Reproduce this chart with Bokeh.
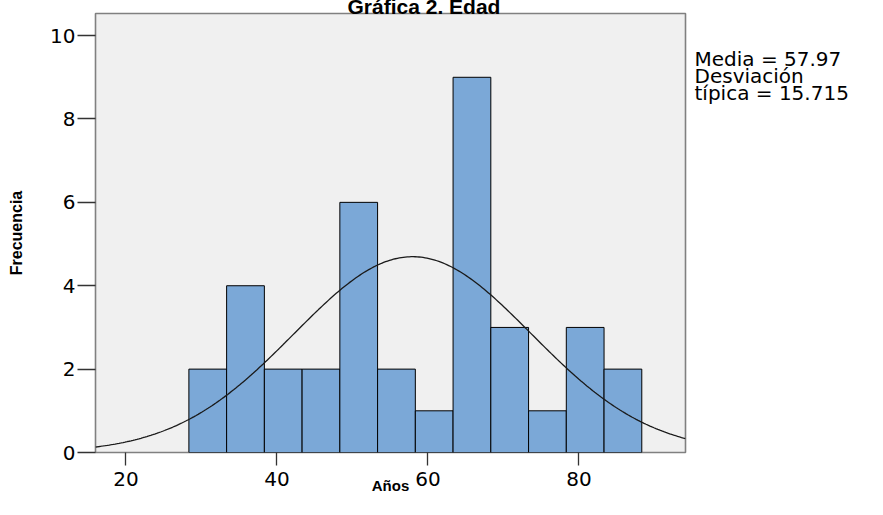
import numpy as np
from bokeh.plotting import figure
from bokeh.models import Range1d, FixedTicker, LinearAxis
from bokeh.embed import file_html
from bokeh.resources import INLINE

# Data
bin_left = [28.33, 33.33, 38.33, 43.33, 48.33, 53.33, 58.33, 63.33, 68.33, 73.33, 78.33, 83.33]
bin_width = 5.0
counts = [2, 4, 2, 2, 6, 2, 1, 9, 3, 1, 3, 2]
x_ticks = [20, 40, 60, 80]
y_ticks = [0, 2, 4, 6, 8, 10]
mean_age = 57.97
sd_age = 15.715
n_obs = sum(counts)

title_text = "Gráfica 2. Edad"
x_label = "Años"
y_label = "Frecuencia"
stats_lines = ["Media = 57.97", "Desviación", "típica = 15.715"]

x_start, x_end = 15.96, 94.12
y_start, y_end = 0, 10.53

p = figure(width=867, height=499, output_backend="svg", toolbar_location=None,
           x_range=Range1d(x_start, x_end), y_range=Range1d(y_start, y_end),
           min_border_left=95, min_border_right=182, min_border_top=13, min_border_bottom=47)
p.background_fill_color = "#F0F0F0"
p.border_fill_color = "white"
p.outline_line_color = "#808080"
p.outline_line_width = 1.6
p.grid.visible = False

# Title, squeezed into the thin strip above the plot area
p.title.text = title_text
p.title.align = "left"
p.title.offset = 252
p.title.vertical_align = "top"
p.title.standoff = -12
p.title.text_font = "Liberation Sans"
p.title.text_font_style = "bold"
p.title.text_font_size = "21px"
p.title.text_color = "black"

left = np.array(bin_left)
p.quad(left=left, right=left + bin_width, bottom=0, top=counts,
       fill_color="#7BA8D7", line_color="black", line_width=1)

# Fitted normal curve from mean and standard deviation
xs = np.linspace(x_start, x_end, 300)
ys = n_obs * bin_width / (sd_age * np.sqrt(2 * np.pi)) * np.exp(-0.5 * ((xs - mean_age) / sd_age) ** 2)
p.line(xs, ys, line_color="#1a1a1a", line_width=1.3)

for ax in (p.xaxis[0], p.yaxis[0]):
    ax.axis_line_color = None
    ax.major_tick_line_color = "#333333"
    ax.major_tick_line_width = 1.3
    ax.minor_tick_line_color = None
    ax.major_tick_in = 0
    ax.major_label_text_font = "DejaVu Sans"
    ax.major_label_text_font_size = "20px"
    ax.major_label_text_color = "black"

p.xaxis.ticker = FixedTicker(ticks=x_ticks)
p.yaxis.ticker = FixedTicker(ticks=y_ticks)
p.xaxis.major_tick_out = 13
p.xaxis.major_label_standoff = 6
p.yaxis.major_tick_out = 18
p.yaxis.major_label_standoff = 2

p.yaxis.axis_label = y_label
p.yaxis.axis_label_text_font = "Liberation Sans"
p.yaxis.axis_label_text_font_style = "bold"
p.yaxis.axis_label_text_font_size = "16px"
p.yaxis.axis_label_text_color = "black"
p.yaxis.axis_label_standoff = 22

p.xaxis.axis_label = x_label
p.xaxis.axis_label_text_font = "Liberation Sans"
p.xaxis.axis_label_text_font_style = "bold"
p.xaxis.axis_label_text_font_size = "15px"
p.xaxis.axis_label_text_color = "black"
p.xaxis.axis_label_standoff = -12

# Statistics text at the right of the plot area
stats_y = [9.44, 9.03, 8.62]
stats_axis = LinearAxis(ticker=FixedTicker(ticks=stats_y),
                        major_label_overrides=dict(zip(stats_y, stats_lines)))
stats_axis.axis_line_color = None
stats_axis.major_tick_line_color = None
stats_axis.minor_tick_line_color = None
stats_axis.major_tick_in = 0
stats_axis.major_tick_out = 0
stats_axis.major_label_standoff = 9
stats_axis.major_label_text_font = "DejaVu Sans"
stats_axis.major_label_text_font_size = "20px"
stats_axis.major_label_text_color = "black"
p.add_layout(stats_axis, "right")

open("out.html", "w").write(file_html(p, INLINE))
